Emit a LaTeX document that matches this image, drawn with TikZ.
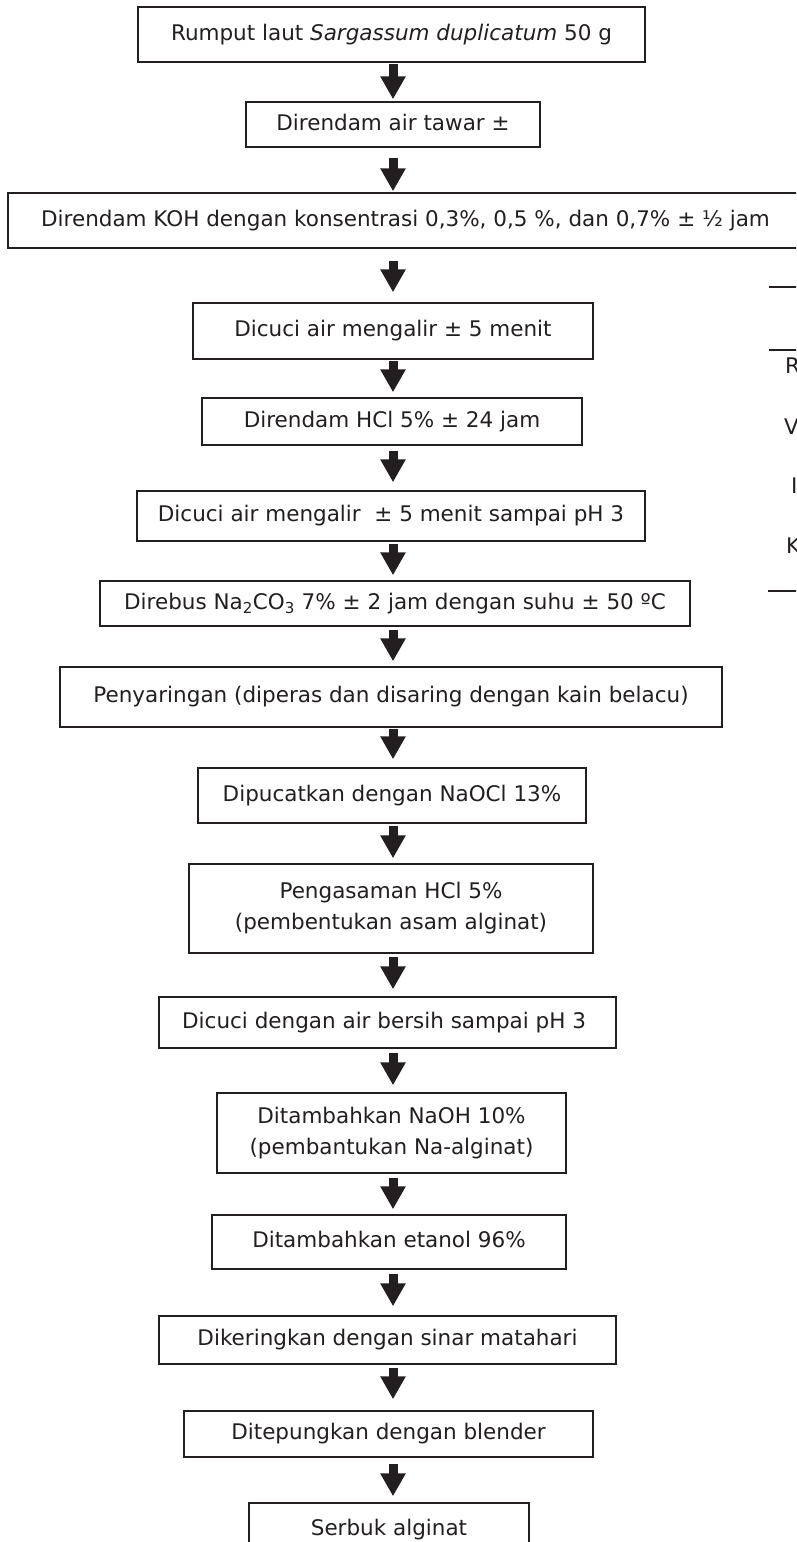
\documentclass[tikz,border=0pt]{standalone}
\usepackage{fontspec}
\setmainfont{DejaVu Sans}
\usetikzlibrary{arrows.meta,calc}
\definecolor{ink}{RGB}{35,31,32}
\begin{document}
\begin{tikzpicture}[x=1pt,y=-1pt,
  box/.style={draw=ink, line width=1.5pt, text=ink, inner sep=0pt,
    font=\fontsize{21.5}{31}\selectfont},
  one/.style={text height=16pt, text depth=4.5pt},
  two/.style={align=center},
  blk/.style={draw=ink, line width=9pt, -{Triangle[width=24pt,length=23pt]}},
  tbltext/.style={text=ink, font=\fontsize{21.5}{31}\selectfont, inner sep=0pt, anchor=base west},
  tblrule/.style={draw=ink}]
\useasboundingbox (0,0) rectangle (796,1542);
\clip (0,0) rectangle (796,1542);
\fill[white] (0,0) rectangle (796,1542);
\coordinate (ax) at (393,0);

\node[box,one,minimum width=507pt,minimum height=55pt] (b1) at (391.5,34.5) {Rumput laut \textit{Sargassum duplicatum} 50 g};
\node[box,one,minimum width=294pt,minimum height=45pt] (b2) at (393,124.5) {Direndam air tawar ±};
\node[box,one,minimum width=795pt,minimum height=55pt] (b3) at (405.5,220.5) {Direndam KOH dengan konsentrasi 0,3\%, 0,5 \%, dan 0,7\% ± ½ jam};
\node[box,one,minimum width=400pt,minimum height=56pt] (b4) at (393,331) {Dicuci air mengalir ± 5 menit};
\node[box,one,minimum width=380pt,minimum height=47pt] (b5) at (392,421.5) {Direndam HCl 5\% ± 24 jam};
\node[box,one,minimum width=508pt,minimum height=50pt] (b6) at (391,516) {Dicuci air mengalir\ \ ± 5 menit sampai pH 3};
\node[box,one,minimum width=590pt,minimum height=45pt] (b7) at (395,603.5) {Direbus Na\textsubscript{2}CO\textsubscript{3} 7\% ± 2 jam dengan suhu ± 50 ºC};
\node[box,one,minimum width=662pt,minimum height=60pt] (b8) at (391,697) {Penyaringan (diperas dan disaring dengan kain belacu)};
\node[box,one,minimum width=388pt,minimum height=55pt] (b9) at (392,795.5) {Dipucatkan dengan NaOCl 13\%};
\node[box,two,minimum width=404pt,minimum height=89pt] (b10) at (391,908.5) {Pengasaman HCl 5\%\\(pembentukan asam alginat)};
\node[box,one,minimum width=457pt,minimum height=51pt] (b11) at (387.5,1022.5) {Dicuci dengan air bersih sampai pH 3\ \ };
\node[box,two,minimum width=349pt,minimum height=80pt] (b12) at (391.5,1133) {Ditambahkan NaOH 10\%\\(pembantukan Na-alginat)};
\node[box,one,minimum width=354pt,minimum height=54pt] (b13) at (389,1242) {Ditambahkan etanol 96\%};
\node[box,one,minimum width=457pt,minimum height=48pt] (b14) at (387.5,1340) {Dikeringkan dengan sinar matahari};
\node[box,one,minimum width=409pt,minimum height=46pt] (b15) at (388.5,1434) {Ditepungkan dengan blender};
\node[box,one,minimum width=280pt,minimum height=53pt] (b16) at (389,1529.5) {Serbuk alginat};

\newcommand\flowarrow[4]{\draw[blk] ($(#1.south -| ax)+(0,#3)$) -- ($(#2.north -| ax)+(0,-#4)$);}
\flowarrow{b1}{b2}{1}{2}
\flowarrow{b2}{b3}{10}{1}
\flowarrow{b3}{b4}{12}{10}
\flowarrow{b4}{b5}{1}{5}
\flowarrow{b5}{b6}{5}{8}
\flowarrow{b6}{b7}{2}{5}
\flowarrow{b7}{b8}{3}{5}
\flowarrow{b8}{b9}{1}{8}
\flowarrow{b9}{b10}{2}{5}
\flowarrow{b10}{b11}{3}{7}
\flowarrow{b11}{b12}{4}{7}
\flowarrow{b12}{b13}{4}{5}
\flowarrow{b13}{b14}{4}{9}
\flowarrow{b14}{b15}{3}{11}
\flowarrow{b15}{b16}{6}{6}

% partial table at the right edge
\draw[tblrule,line width=2.7pt] (769,287) -- (800,287);
\draw[tblrule,line width=1.7pt] (769,350) -- (800,350);
\draw[tblrule,line width=2.7pt] (768,591) -- (800,591);
\node[tbltext] (tr) at (785,373) {R};
\node[tbltext] (tv) at (784,434) {V};
\node[tbltext] (ti) at (791,493) {I};
\node[tbltext] (tk) at (786,553) {K};
\end{tikzpicture}
\end{document}
